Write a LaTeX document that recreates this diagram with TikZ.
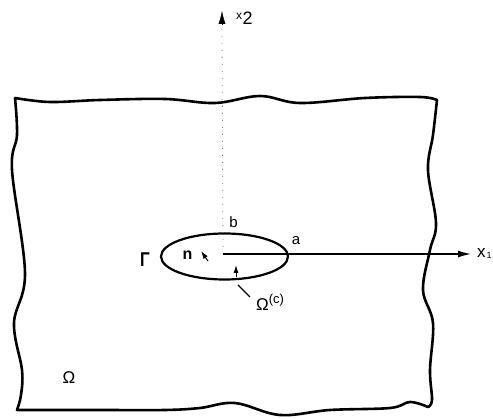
\documentclass[tikz,border=0pt]{standalone}
\usepackage{fontspec}
\setmainfont{Liberation Sans}
\usetikzlibrary{arrows.meta,shapes.geometric}
\tikzset{
  boundary/.style={line width=2.6pt, line join=round, line cap=round},
  axisline/.style={line width=1.4pt},
  faintdots/.style={line width=0.8pt, gray, dash pattern=on 1pt off 6pt},
  lbl/.style={inner sep=0pt, font=\fontsize{15}{17}\selectfont},
  tipbig/.style={-{Latex[length=13pt,width=7pt]}},
  tipsmall/.style={-{Latex[length=8pt,width=5pt]}},
}
\begin{document}
\begin{tikzpicture}[x=1pt,y=-1pt]
\useasboundingbox (0,0) rectangle (493,419);
% wavy outer boundary of Omega
\draw[boundary]
  plot[smooth, tension=0.6] coordinates {(15,98) (50,102) (100,100) (165,99) (215,103) (260,96) (300,103) (365,98) (420,97) (437,100)}
  -- plot[smooth, tension=0.6] coordinates {(437,100) (433,135) (428,170) (436,223) (430,250) (423,290) (433,323) (430,370) (432,400) (428,407)}
  -- plot[smooth, tension=0.6] coordinates {(428,407) (410,402) (390,408) (330,410) (280,415) (235,403) (200,408) (165,410) (100,410) (17,410)}
  -- plot[smooth, tension=0.6] coordinates {(17,410) (21,395) (22,370) (14,323) (25,273) (12,170) (17,135) (15,98)};
% coordinates
\coordinate (O) at (223,254);
\coordinate (x1tip) at (471,254);
\coordinate (x2tip) at (222,11);
\coordinate (x2base) at (222,25);
% crack ellipse
\node[draw, ellipse, line width=2.2pt, minimum width=127pt, minimum height=46pt, inner sep=0pt] (crack) at (224.5,256.5) {};
% axes
\draw[faintdots] (O) -- (x2base);
\draw[tipbig] (x2base) -- (x2tip);
\draw[axisline, tipbig] (O) -- (x1tip);
\node[lbl, anchor=west, font=\fontsize{18}{20}\selectfont] (x2lbl) at (236,18) {\raisebox{5pt}{\fontsize{12}{13}\selectfont x}\kern0.5pt 2};
\node[lbl, anchor=west, font=\fontsize{17}{19}\selectfont] (x1lbl) at (477,254) {x\kern1pt\raisebox{-1pt}{\fontsize{9}{10}\selectfont 1}};
% labels
\node[lbl] (b) at (233.5,222) {b};
\node[lbl] (a) at (296,241) {a};
\node[lbl, font=\bfseries\fontsize{20}{22}\selectfont, xscale=0.8] (Gamma) at (145,260) {Γ};
\node[lbl, font=\bfseries\fontsize{16}{18}\selectfont] (n) at (187.5,255) {n};
\coordinate (nfrom) at (208,261);
\coordinate (nto) at (201,251);
\draw[tipsmall, line width=1pt] (nfrom) -- (nto);
\coordinate (ocfrom) at (236,277);
\coordinate (octo) at (236,265);
\draw[tipsmall, line width=1pt] (ocfrom) -- (octo);
\node[lbl, anchor=west, font=\fontsize{17}{19}\selectfont] (Oc) at (256,302) {Ω\raisebox{7pt}{\fontsize{13}{14}\selectfont(c)}};
\coordinate (leadA) at (238,285);
\coordinate (leadB) at (250,297);
\draw[line width=1.1pt] (leadA) -- (leadB);
\node[lbl, font=\fontsize{17}{19}\selectfont] (Omega) at (69,378) {Ω};
\end{tikzpicture}
\end{document}
